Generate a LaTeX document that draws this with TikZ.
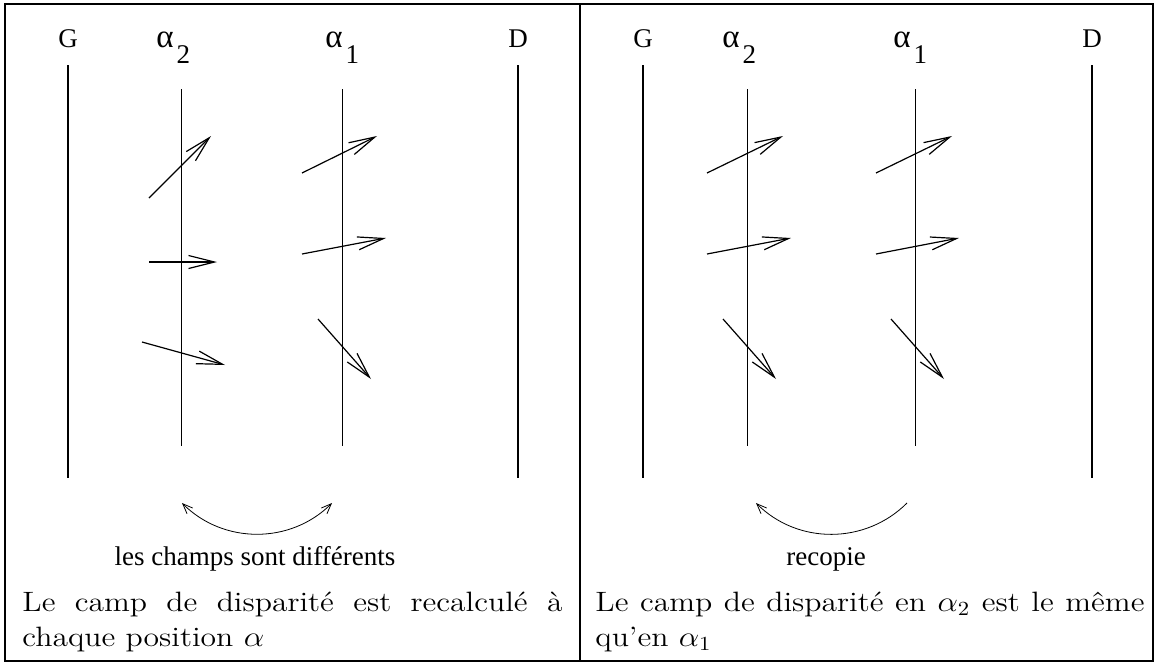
\documentclass[tikz,border=0pt]{standalone}
\usepackage{fontspec}
\usepackage{graphicx}
\usepackage{tikz}
\usetikzlibrary{arrows.meta}
\newfontfamily\figfont{Liberation Serif}
\newcommand{\alphaSub}[1]{{\fontsize{16.5pt}{18pt}\selectfont α}\hspace{1.5pt}\raisebox{-8pt}{#1}}
\newcommand{\capText}[2]{\scalebox{1.13}[1]{\parbox[t]{#1}{\fontsize{14pt}{17.5pt}\selectfont #2}}}

\begin{document}
\begin{tikzpicture}[x=0.5pt,y=-0.5pt,
  frame/.style={line width=1.3pt},
  side/.style={line width=0.6pt},
  posline/.style={line width=0.4pt},
  vec/.style={line width=0.6pt,-{Straight Barb[length=13pt,width=6.5pt]}},
  lbl/.style={font=\figfont\fontsize{13.5pt}{15pt}\selectfont,inner sep=0pt,anchor=base},
  caption/.style={inner sep=0pt,anchor=base west}]
 \useasboundingbox (0,0) rectangle (1157,665);
 \draw[frame] (5,4) rectangle (1153,661);
 \draw[frame] (580,4) -- (580,661);
 % left panel
 \node[lbl] (gL) at (68,47) {G};
 \node[lbl] (dL) at (518,47) {D};
 \node[lbl,anchor=base west] (a2L) at (156,47) {\alphaSub{2}};
 \node[lbl,anchor=base west] (a1L) at (325,47) {\alphaSub{1}};
 \draw[side] (68,65) -- (68,478);
 \draw[side] (518,65) -- (518,478);
 \draw[posline] (181,89) -- (181,446);
 \draw[posline] (342,89) -- (342,446);
 \foreach \a/\b/\c/\d in {149/198/211/136, 149/262/217/262, 142/342/225/365,
                          302/173/377/136, 302/254/386/238, 318/319/371/379}
   \draw[vec] (\a,\b) -- (\c,\d);
 \coordinate (fromL) at (182,503);
 \coordinate (toL) at (332,503);
 \draw[posline,{Straight Barb[length=5pt,width=4pt]}-{Straight Barb[length=5pt,width=4pt]}]
   (fromL) to[bend right=45] (toL);
 \node[lbl] (diffL) at (255,565) {les champs sont différents};
 \node[caption] (capL) at (22,611)
   {\capText{239pt}{Le camp de disparité est recalculé à\linebreak chaque position $\alpha$}};
 % right panel
 \node[lbl] (gR) at (643,47) {G};
 \node[lbl] (dR) at (1092,47) {D};
 \node[lbl,anchor=base west] (a2R) at (722,47) {\alphaSub{2}};
 \node[lbl,anchor=base west] (a1R) at (893,47) {\alphaSub{1}};
 \draw[side] (643,65) -- (643,478);
 \draw[side] (1092,65) -- (1092,478);
 \draw[posline] (747,89) -- (747,446);
 \draw[posline] (915,89) -- (915,446);
 \foreach \a/\b/\c/\d in {707/173/783/136, 707/254/791/238, 723/319/776/379,
                          876/173/952/136, 876/254/959/238, 891/319/944/379}
   \draw[vec] (\a,\b) -- (\c,\d);
 \coordinate (fromR) at (907,503);
 \coordinate (toR) at (756,503);
 \draw[posline,-{Straight Barb[length=5pt,width=4pt]}] (fromR) to[bend left=45] (toR);
 \node[lbl] (copyR) at (826,565) {recopie};
 \node[caption] (capR) at (595,611)
   {\capText{243pt}{Le camp de disparité en $\alpha_2$ est le même\linebreak qu'en $\alpha_1$}};
\end{tikzpicture}
\end{document}
